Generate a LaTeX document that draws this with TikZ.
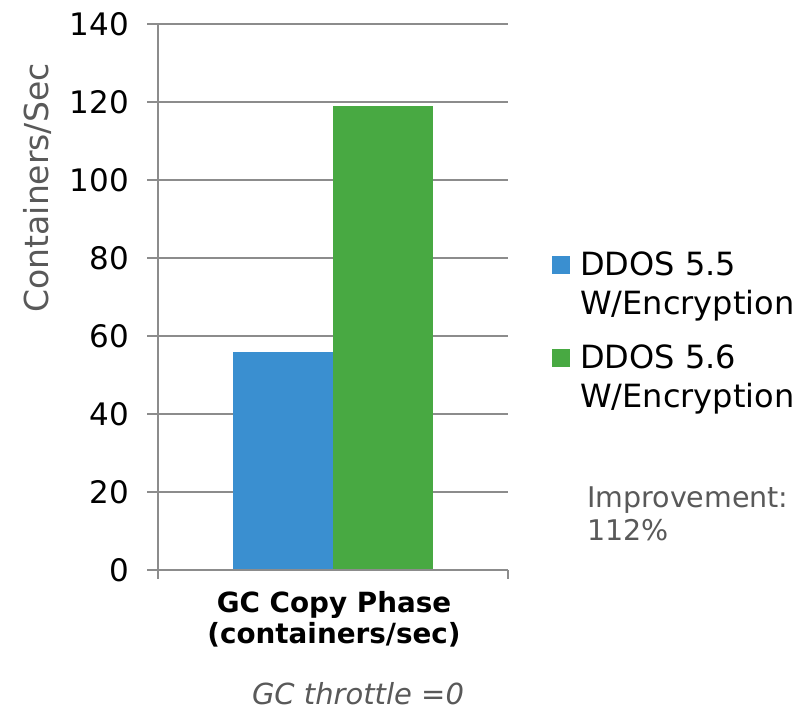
\documentclass[tikz,border=0pt]{standalone}
\usepackage{fontspec}
\setmainfont{DejaVu Sans}
\definecolor{barblue}{HTML}{3A8FD0}
\definecolor{bargreen}{HTML}{48A942}
\definecolor{gridgray}{HTML}{8C8C8C}
\definecolor{txtgray}{HTML}{595959}
\begin{document}
\begin{tikzpicture}[x=1pt,y=-1pt,
  gridline/.style={draw=gridgray,line width=1.5pt},
  ticklab/.style={anchor=east,inner sep=0pt,font=\fontsize{31}{31}\selectfont,text=black},
  legtxt/.style={anchor=base west,inner sep=0pt,font=\fontsize{32}{32}\selectfont,text=black},
  grytxt/.style={anchor=base west,inner sep=0pt,font=\fontsize{28.5}{28.5}\selectfont,text=txtgray}]
\useasboundingbox[fill=white] (0,0) rectangle (812,710);
% grid lines
\foreach \v in {20,40,...,140}{
  \draw[gridline] (147,{570-\v*3.9}) -- (508,{570-\v*3.9});
}
% bars
\fill[barblue] (233,570) rectangle (333,{570-56*3.9});
\fill[bargreen] (333,570) rectangle (433,{570-119*3.9});
% axes
\draw[gridline] (147,570) -- (508,570);
\draw[gridline] (158,{570-140*3.9}) -- (158,579);
\draw[gridline] (508,570) -- (508,579);
% tick labels
\foreach \v in {0,20,...,140}{
  \node[ticklab] (t\v) at (129,{570-\v*3.9}) {\v};
}
% y label
\node[rotate=90,inner sep=0pt,font=\fontsize{33}{33}\selectfont,text=txtgray] (ylab) at (37,188) {Containers/Sec};
% x category label
\node[anchor=base,inner sep=0pt,font=\fontsize{27.8}{27.8}\selectfont\bfseries] (xl1) at (334,612) {GC Copy Phase};
\node[anchor=base,inner sep=0pt,font=\fontsize{27.8}{27.8}\selectfont\bfseries] (xl2) at (334,643) {(containers/sec)};
% legend
\fill[barblue] (552,256) rectangle (570,274);
\node[legtxt] (l1a) at (580,275) {DDOS 5.5};
\node[legtxt] (l1b) at (580,314) {W/Encryption};
\fill[bargreen] (552,349) rectangle (570,367);
\node[legtxt] (l2a) at (580,368) {DDOS 5.6};
\node[legtxt] (l2b) at (580,407) {W/Encryption};
% improvement
\node[grytxt] (imp1) at (587,507) {Improvement:};
\node[grytxt] (imp2) at (587,540) {112\%};
% throttle
\node[anchor=base,inner sep=0pt,font=\fontsize{29}{29}\selectfont\itshape,text=txtgray] (thr) at (358,704) {GC throttle =0};
\end{tikzpicture}
\end{document}
